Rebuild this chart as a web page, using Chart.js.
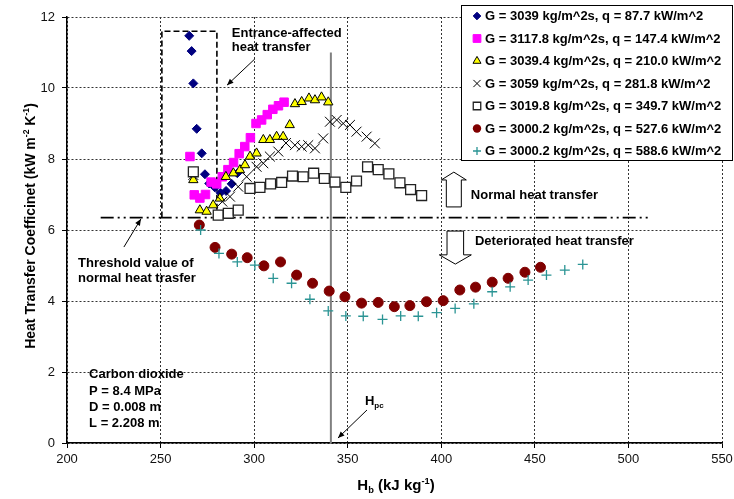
<!DOCTYPE html>
<html>
<head>
<meta charset="utf-8">
<script src="https://cdn.jsdelivr.net/npm/chart.js@4.4.0/dist/chart.umd.min.js"></script>
<style>
  html, body { margin: 0; padding: 0; background: #fff; }
</style>
</head>
<body>
<canvas id="htc-chart" width="734" height="499"></canvas>
<script>
// Bulk enthalpy Hb (kJ/kg) and heat transfer coefficient (kW/m2K)
const hb_q088  = [265.3, 266.6, 267.5, 269.3, 272, 273.7, 276, 279, 282, 285, 288, 291];
const htc_q088 = [11.47, 11.04, 10.13, 8.85, 8.16, 7.57, 7.31, 7.2, 7.05, 7.1, 7.3, 7.6];

const hb_q147  = [265.7, 268, 271, 274, 277, 280, 283, 286, 289, 292, 295, 298, 301, 304, 307, 310, 313, 316];
const htc_q147 = [8.07, 6.99, 6.9, 7.0, 7.35, 7.3, 7.5, 7.7, 7.9, 8.15, 8.35, 8.6, 9.0, 9.1, 9.25, 9.4, 9.5, 9.6];

const hb_q210  = [267.5, 271, 274.6, 278.1, 281.7, 284.9, 288.9, 292.4, 295.1, 297.8, 301.3, 304.9, 308.4, 312, 315.5, 319, 321.8, 325.4, 329.3, 332.5, 336, 339.6];
const htc_q210 = [7.41, 6.56, 6.52, 6.7, 6.89, 7.5, 7.6, 7.69, 7.83, 8.07, 8.16, 8.54, 8.54, 8.63, 8.63, 8.96, 9.55, 9.61, 9.71, 9.66, 9.74, 9.6];

const hb_q282  = [267.5, 283, 287.1, 291.5, 296, 301.3, 304.9, 308.4, 312.9, 317, 321.8, 325.4, 328.9, 332.5, 336.9, 340.5, 344.1, 347.6, 351.2, 354.7, 360.1, 364.5];
const htc_q282 = [7.55, 6.8, 6.94, 7.22, 7.5, 7.78, 7.88, 8.07, 8.21, 8.45, 8.39, 8.35, 8.39, 8.3, 8.58, 9.05, 9.1, 9.0, 8.96, 8.77, 8.63, 8.44];

const hb_q350  = [267.5, 280.8, 286.2, 291.5, 297.8, 303.1, 308.8, 314.7, 320.5, 326.2, 331.8, 337.5, 343.2, 349, 354.7, 360.6, 366.3, 372, 377.9, 383.6, 389.5];
const htc_q350 = [7.64, 6.42, 6.47, 6.56, 7.17, 7.2, 7.3, 7.34, 7.52, 7.5, 7.6, 7.45, 7.35, 7.2, 7.38, 7.78, 7.7, 7.58, 7.33, 7.14, 6.97];

const hb_q528  = [270.7, 279.1, 288, 296.3, 305.2, 314.1, 322.7, 331.2, 340.1, 348.5, 357.4, 366.3, 374.9, 383.2, 392.1, 401, 409.9, 418.3, 427.2, 435.7, 444.7, 453];
const htc_q528 = [6.14, 5.51, 5.32, 5.22, 4.99, 5.1, 4.73, 4.5, 4.28, 4.12, 3.94, 3.96, 3.84, 3.87, 3.98, 4.01, 4.31, 4.39, 4.53, 4.64, 4.81, 4.95];

const hb_q589  = [271.4, 281.2, 291, 300.4, 310.2, 320, 329.8, 339.6, 349, 358.3, 368.6, 378.3, 387.7, 397.5, 407.4, 417.4, 427.2, 436.8, 446.4, 456.2, 466, 475.6];
const htc_q589 = [6.0, 5.34, 5.1, 5.01, 4.64, 4.5, 4.05, 3.72, 3.58, 3.57, 3.48, 3.58, 3.57, 3.67, 3.79, 3.92, 4.26, 4.4, 4.59, 4.73, 4.87, 5.03];

const seriesLabels = [
    'G = 3039 kg/m^2s, q = 87.7 kW/m^2',
    'G = 3117.8 kg/m^2s, q = 147.4 kW/m^2',
    'G = 3039.4 kg/m^2s, q = 210.0 kW/m^2',
    'G = 3059 kg/m^2s, q = 281.8 kW/m^2',
    'G = 3019.8 kg/m^2s, q = 349.7 kW/m^2',
    'G = 3000.2 kg/m^2s, q = 527.6 kW/m^2',
    'G = 3000.2 kg/m^2s, q = 588.6 kW/m^2'
];

const xTicks = [200, 250, 300, 350, 400, 450, 500, 550];
const yTicks = [0, 2, 4, 6, 8, 10, 12];

const thresholdHtc = 6.35;
const hpcEnthalpy = 341;

const FONT = '"Liberation Sans", Arial, sans-serif';

// marker looks, same order as the series
const looks = [
    {style: 'rectRot',  r: 4.5, fill: '#000080', stroke: '#000080', lw: 1,   lr: 3.8},
    {style: 'rect',     r: 6,   fill: '#ff00ff', stroke: '#ff00ff', lw: 1,   lr: 5.4},
    {style: 'triangle', r: 5.4, fill: '#ffff00', stroke: '#000000', lw: 1,   lr: 4.6},
    {style: 'crossRot', r: 7,   fill: '#000000', stroke: '#000000', lw: 1,   lr: 5},
    {style: 'rect',     r: 7,   fill: '#ffffff', stroke: '#222222', lw: 1.3, lr: 5.2},
    {style: 'circle',   r: 5,   fill: '#800000', stroke: '#800000', lw: 1,   lr: 4.2},
    {style: 'cross',    r: 5,   fill: '#2a9494', stroke: '#2a9494', lw: 1.3, lr: 4}
];

const xs = [hb_q088, hb_q147, hb_q210, hb_q282, hb_q350, hb_q528, hb_q589];
const ys = [htc_q088, htc_q147, htc_q210, htc_q282, htc_q350, htc_q528, htc_q589];

const datasets = xs.map((xv, i) => ({
    label: seriesLabels[i],
    data: xv.map((x, j) => ({x: x, y: ys[i][j]})),
    showLine: false,
    pointStyle: looks[i].style,
    pointRadius: looks[i].r,
    pointHoverRadius: looks[i].r,
    backgroundColor: looks[i].fill,
    borderColor: looks[i].stroke,
    pointBorderWidth: looks[i].lw,
    order: 7 - i
}));

// small marker drawer for the legend
function marker(ctx, style, x, y, r, fill, stroke, lw) {
    ctx.save();
    ctx.fillStyle = fill;
    ctx.strokeStyle = stroke;
    ctx.lineWidth = lw;
    ctx.beginPath();
    if (style === 'rectRot') {
        ctx.moveTo(x, y - r); ctx.lineTo(x + r, y); ctx.lineTo(x, y + r); ctx.lineTo(x - r, y); ctx.closePath();
        ctx.fill(); ctx.stroke();
    } else if (style === 'rect') {
        ctx.rect(x - r * 0.72, y - r * 0.72, r * 1.44, r * 1.44);
        ctx.fill(); ctx.stroke();
    } else if (style === 'triangle') {
        ctx.moveTo(x, y - r); ctx.lineTo(x + r * 0.87, y + r * 0.5); ctx.lineTo(x - r * 0.87, y + r * 0.5); ctx.closePath();
        ctx.fill(); ctx.stroke();
    } else if (style === 'circle') {
        ctx.arc(x, y, r, 0, Math.PI * 2);
        ctx.fill();
    } else if (style === 'crossRot') {
        const d = r * 0.72;
        ctx.moveTo(x - d, y - d); ctx.lineTo(x + d, y + d);
        ctx.moveTo(x + d, y - d); ctx.lineTo(x - d, y + d);
        ctx.stroke();
    } else if (style === 'cross') {
        ctx.moveTo(x - r, y); ctx.lineTo(x + r, y);
        ctx.moveTo(x, y - r); ctx.lineTo(x, y + r);
        ctx.stroke();
    }
    ctx.restore();
}

// text made of pieces, some raised or lowered
function richText(ctx, parts, x, y, size, align) {
    let w = 0;
    parts.forEach(p => {
        ctx.font = 'bold ' + (p.s ? size * 0.62 : size) + 'px ' + FONT;
        p.w = ctx.measureText(p.t).width;
        w += p.w;
    });
    let cx = align === 'center' ? x - w / 2 : x;
    ctx.textAlign = 'left';
    ctx.textBaseline = 'alphabetic';
    parts.forEach(p => {
        ctx.font = 'bold ' + (p.s ? size * 0.62 : size) + 'px ' + FONT;
        const dy = p.s === 'sup' ? -size * 0.4 : (p.s === 'sub' ? size * 0.22 : 0);
        ctx.fillText(p.t, cx, y + dy);
        cx += p.w;
    });
}

function arrowLine(ctx, x1, y1, x2, y2) {
    const a = Math.atan2(y2 - y1, x2 - x1);
    ctx.beginPath();
    ctx.moveTo(x1, y1); ctx.lineTo(x2, y2);
    ctx.stroke();
    ctx.beginPath();
    ctx.moveTo(x2, y2);
    ctx.lineTo(x2 - 7 * Math.cos(a - 0.4), y2 - 7 * Math.sin(a - 0.4));
    ctx.lineTo(x2 - 7 * Math.cos(a + 0.4), y2 - 7 * Math.sin(a + 0.4));
    ctx.closePath();
    ctx.fill();
}

const annotations = {
    id: 'annotations',
    beforeDatasetsDraw(chart) {
        const c = chart.ctx, xs_ = chart.scales.x, ys_ = chart.scales.y;
        const px = v => xs_.getPixelForValue(v), py = v => ys_.getPixelForValue(v);
        c.save();
        // Hpc vertical line
        c.strokeStyle = '#808080';
        c.lineWidth = 2;
        c.beginPath();
        c.moveTo(px(hpcEnthalpy), py(0));
        c.lineTo(px(hpcEnthalpy), py(11));
        c.stroke();
        // threshold dash-dot-dot line
        c.strokeStyle = '#000';
        c.lineWidth = 1.8;
        c.setLineDash([13, 4, 2, 4, 2, 4]);
        c.beginPath();
        c.moveTo(px(218), py(thresholdHtc));
        c.lineTo(px(511), py(thresholdHtc));
        c.stroke();
        // entrance box
        c.lineWidth = 1.6;
        c.setLineDash([6, 3]);
        c.beginPath();
        c.moveTo(px(250.7), py(thresholdHtc));
        c.lineTo(px(250.7), py(11.6));
        c.lineTo(px(280.1), py(11.6));
        c.lineTo(px(280.1), py(thresholdHtc));
        c.stroke();
        c.restore();
    },
    afterDraw(chart) {
        const c = chart.ctx, xs_ = chart.scales.x, ys_ = chart.scales.y;
        const px = v => xs_.getPixelForValue(v), py = v => ys_.getPixelForValue(v);
        c.save();
        c.fillStyle = '#000';
        c.strokeStyle = '#000';
        c.lineWidth = 1;
        c.font = 'bold 13px ' + FONT;
        c.textAlign = 'left';
        c.textBaseline = 'middle';
        c.fillText('Entrance-affected', px(288.1), py(11.55));
        c.fillText('heat transfer', px(288.1), py(11.15));
        c.fillText('Threshold value of', px(205.9), py(5.07));
        c.fillText('normal heat trasfer', px(205.9), py(4.65));
        c.fillText('Carbon dioxide', px(211.8), py(1.92));
        c.fillText('P = 8.4 MPa', px(211.8), py(1.46));
        c.fillText('D = 0.008 m', px(211.8), py(1.01));
        c.fillText('L = 2.208 m', px(211.8), py(0.56));
        c.fillText('Normal heat transfer', px(415.8), py(6.96));
        c.fillText('Deteriorated heat transfer', px(418), py(5.69));
        richText(c, [{t: 'H'}, {t: 'pc', s: 'sub'}], px(359.2), py(1.21) + 5, 13, 'left');

        arrowLine(c, px(300.4), py(10.82), px(285.5), py(10.08));
        arrowLine(c, px(230.4), py(5.52), px(239.5), py(6.31));
        arrowLine(c, px(360.3), py(0.93), px(344.8), py(0.14));

        // block arrows
        c.fillStyle = '#fff';
        c.lineWidth = 1;
        let cx = px(406.7), top = py(7.63), base = py(7.41), bot = py(6.65);
        c.beginPath();
        c.moveTo(cx, top); c.lineTo(cx + 12.5, base); c.lineTo(cx + 7.5, base); c.lineTo(cx + 7.5, bot);
        c.lineTo(cx - 7.5, bot); c.lineTo(cx - 7.5, base); c.lineTo(cx - 12.5, base); c.closePath();
        c.fill(); c.stroke();
        cx = px(407.5); top = py(5.97); base = py(5.3); bot = py(5.04);
        c.beginPath();
        c.moveTo(cx - 8.3, top); c.lineTo(cx + 8.3, top); c.lineTo(cx + 8.3, base); c.lineTo(cx + 16, base);
        c.lineTo(cx, bot); c.lineTo(cx - 16, base); c.lineTo(cx - 8.3, base); c.closePath();
        c.fill(); c.stroke();

        // axis titles
        c.fillStyle = '#000';
        richText(c, [{t: 'H'}, {t: 'b', s: 'sub'}, {t: ' (kJ kg'}, {t: '-1', s: 'sup'}, {t: ')'}], 396, 490, 15, 'center');
        c.save();
        c.translate(35, 226);
        c.rotate(-Math.PI / 2);
        richText(c, [{t: 'Heat Transfer Coefficinet (kW m'}, {t: '-2', s: 'sup'}, {t: ' K'}, {t: '-1', s: 'sup'}, {t: ')'}], 0, 0, 14, 'center');
        c.restore();

        // legend box
        c.fillStyle = '#fff';
        c.fillRect(461, 5, 272, 156);
        c.strokeStyle = '#000';
        c.lineWidth = 1;
        c.strokeRect(461.5, 5.5, 271, 155);
        c.font = 'bold 13px ' + FONT;
        c.textBaseline = 'middle';
        c.textAlign = 'left';
        seriesLabels.forEach((lab, i) => {
            const y = 16 + i * 22.5;
            const lk = looks[i];
            marker(c, lk.style, 477, y, lk.lr, lk.fill, lk.stroke, lk.lw);
            c.fillStyle = '#000';
            c.fillText(lab, 485, y + 0.5);
        });
        c.restore();
    }
};

const config = {
    type: 'scatter',
    data: {datasets: datasets},
    options: {
        responsive: false,
        animation: false,
        layout: {padding: {top: 17, right: 12, left: 0, bottom: 0}},
        plugins: {legend: {display: false}, tooltip: {enabled: false}},
        scales: {
            x: {
                type: 'linear',
                min: xTicks[0],
                max: xTicks[xTicks.length - 1],
                afterBuildTicks: s => { s.ticks = xTicks.map(v => ({value: v})); },
                afterFit: s => { s.height = 56; s.paddingRight = 0; s.paddingLeft = 0; },
                grid: {color: '#333', lineWidth: 1, tickLength: 5, tickColor: '#000'},
                border: {color: '#000', width: 1.5, dash: [2, 2]},
                ticks: {color: '#111', font: {family: FONT, size: 13}, padding: 4, maxRotation: 0}
            },
            y: {
                min: yTicks[0],
                max: yTicks[yTicks.length - 1],
                afterBuildTicks: s => { s.ticks = yTicks.map(v => ({value: v})); },
                afterFit: s => { s.width = 67; },
                grid: {color: '#333', lineWidth: 1, tickLength: 5, tickColor: '#000'},
                border: {color: '#000', width: 1.5, dash: [2, 2]},
                ticks: {color: '#111', font: {family: FONT, size: 13}, padding: 7}
            }
        }
    },
    plugins: [annotations]
};

const htcChart = new Chart(document.getElementById('htc-chart'), config);
</script>
</body>
</html>
